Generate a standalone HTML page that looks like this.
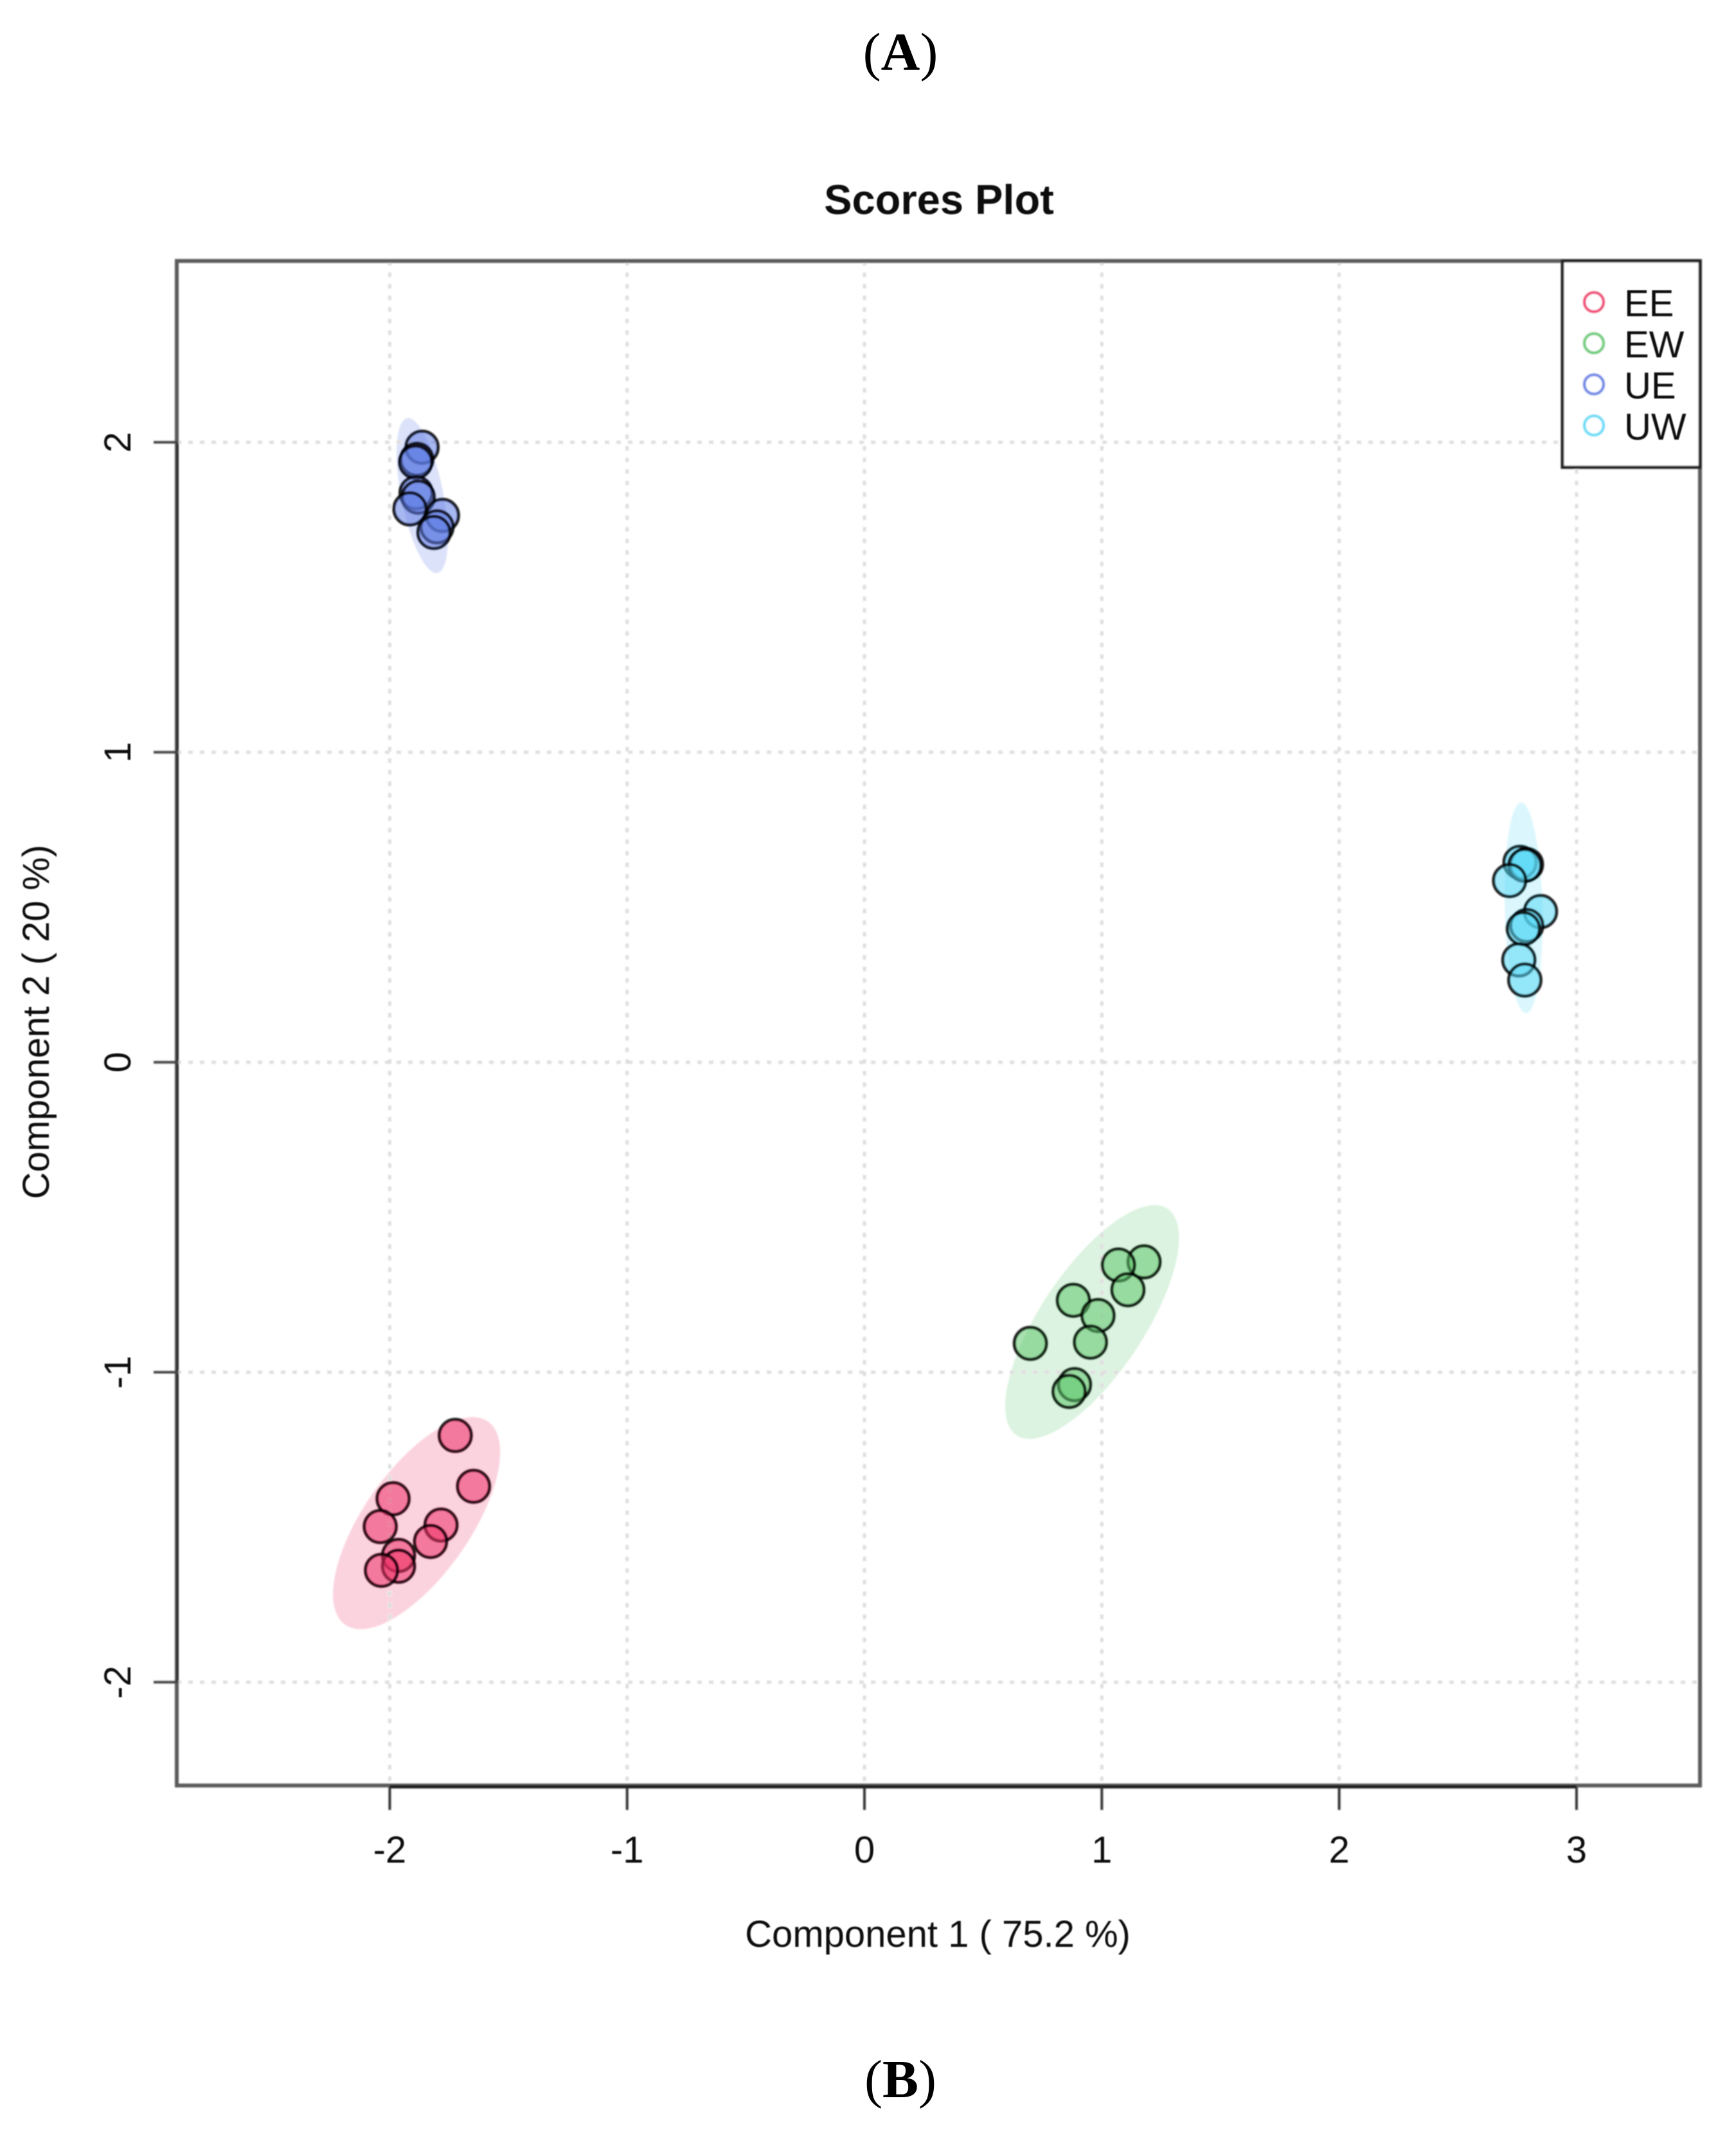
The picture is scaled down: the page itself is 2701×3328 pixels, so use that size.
<!DOCTYPE html>
<html lang="en">
<head>
<meta charset="utf-8">
<title>Scores Plot</title>
<style>
html,body{margin:0;padding:0;background:#fff;}
svg{display:block;}
text{font-family:"Liberation Sans",sans-serif;fill:#111;}
.cap{font-family:"Liberation Serif",serif;fill:#000;font-size:84px;}
</style>
</head>
<body>
<svg id="chart" xmlns="http://www.w3.org/2000/svg" width="2701" height="3328" viewBox="0 0 2701 3328">
<defs>
<filter id="soft" x="-5%" y="-5%" width="110%" height="110%"><feGaussianBlur stdDeviation="1"/></filter>
<filter id="softer" x="-5%" y="-5%" width="110%" height="110%"><feGaussianBlur stdDeviation="0.8"/></filter>
</defs>
<rect width="2701" height="3328" fill="#fff"/>
<text class="cap" x="1401" y="109" text-anchor="middle">(<tspan font-weight="bold">A</tspan>)</text>
<text class="cap" x="1401" y="3263" text-anchor="middle">(<tspan font-weight="bold">B</tspan>)</text>
<g id="plot" filter="url(#soft)"></g>
<g id="labels" filter="url(#softer)">
<text x="1461" y="333" text-anchor="middle" font-size="65" font-weight="bold">Scores Plot</text>
<text x="1459" y="3029" text-anchor="middle" font-size="58">Component 1 ( 75.2 %)</text>
<text x="76" y="1590" text-anchor="middle" font-size="58" transform="rotate(-90 76 1590)">Component 2 ( 20 %)</text>
</g>
</svg>
<script>
var xTicks = [-2, -1, 0, 1, 2, 3];
var yTicks = [-2, -1, 0, 1, 2];
var groupNames = ['EE', 'EW', 'UE', 'UW'];
var groupColors = ['#ee3268', '#5fc86e', '#5f7ce4', '#5ad9f6'];

var eeX = [-1.724, -1.647, -1.986, -2.040, -1.784, -1.828, -1.963, -1.963, -2.035];
var eeY = [-1.204, -1.368, -1.408, -1.498, -1.493, -1.546, -1.591, -1.626, -1.639];
var ewX = [1.178, 1.070, 1.110, 0.880, 0.984, 0.952, 0.699, 0.885, 0.862];
var ewY = [-0.644, -0.654, -0.734, -0.768, -0.817, -0.903, -0.907, -1.040, -1.062];
var ueX = [-1.864, -1.886, -1.891, -1.889, -1.880, -1.915, -1.778, -1.801, -1.814];
var ueY = [1.984, 1.945, 1.936, 1.837, 1.823, 1.785, 1.764, 1.727, 1.709];
var uwX = [2.762, 2.789, 2.782, 2.718, 2.848, 2.790, 2.776, 2.757, 2.782];
var uwY = [0.645, 0.638, 0.635, 0.586, 0.486, 0.441, 0.431, 0.330, 0.265];

/* confidence ellipses in data units: centre, half-extent, correlation */
var ellipseCx = [-1.887, 0.959, -1.863, 2.777];
var ellipseCy = [-1.487, -0.838, 1.828, 0.498];
var ellipseSx = [0.352, 0.366, 0.108, 0.080];
var ellipseSy = [0.342, 0.377, 0.250, 0.340];
var ellipseR = [0.67, 0.72, -0.55, -0.13];

var seriesX = [eeX, ewX, ueX, uwX];
var seriesY = [eeY, ewY, ueY, uwY];

var frame = {left: 275, right: 2645, top: 406, bottom: 2778};
function xScale(v) { return 1345 + 369.3 * v; }
function yScale(v) { return 1652.7 - 482.3 * v; }

var NS = 'http://www.w3.org/2000/svg';
var plot = document.getElementById('plot');
var labels = document.getElementById('labels');
function make(tag, parent, attrs) {
  var el = document.createElementNS(NS, tag);
  for (var k in attrs) el.setAttribute(k, attrs[k]);
  parent.appendChild(el);
  return el;
}

/* ellipses */
groupNames.forEach(function (name, g) {
  var pts = [];
  var phi = Math.acos(ellipseR[g]);
  for (var i = 0; i < 120; i++) {
    var t = i / 120 * 2 * Math.PI;
    var dx = ellipseCx[g] + ellipseSx[g] * Math.cos(t);
    var dy = ellipseCy[g] + ellipseSy[g] * Math.cos(t - phi);
    pts.push(xScale(dx).toFixed(1) + ',' + yScale(dy).toFixed(1));
  }
  var el = make('polygon', plot, {points: pts.join(' '), fill: groupColors[g], 'fill-opacity': 0.22});
  
  
});

/* grid */
xTicks.forEach(function (v) {
  var el = make('line', plot, {x1: xScale(v), x2: xScale(v), y1: frame.top, y2: frame.bottom, stroke: '#dedede', 'stroke-width': 5, 'stroke-dasharray': '7 11'});
  
  
});
yTicks.forEach(function (v) {
  var el = make('line', plot, {x1: frame.left, x2: frame.right, y1: yScale(v), y2: yScale(v), stroke: '#dedede', 'stroke-width': 5, 'stroke-dasharray': '7 11'});
  
  
});

/* frame */
var box = make('rect', plot, {x: frame.left, y: frame.top, width: frame.right - frame.left, height: frame.bottom - frame.top, fill: 'none', stroke: '#5a5a5a', 'stroke-width': 6});



/* axes */
var xAxisLine = make('line', plot, {x1: xScale(xTicks[0]), x2: xScale(xTicks[xTicks.length - 1]), y1: frame.bottom + 2, y2: frame.bottom + 2, stroke: '#1e1e1e', 'stroke-width': 5});


var yAxisLine = make('line', plot, {x1: frame.left + 1, x2: frame.left + 1, y1: yScale(yTicks[0]), y2: yScale(yTicks[yTicks.length - 1]), stroke: '#2a2a2a', 'stroke-width': 4});



xTicks.forEach(function (v) {
  var tick = make('line', plot, {x1: xScale(v), x2: xScale(v), y1: frame.bottom + 3, y2: frame.bottom + 38, stroke: '#333', 'stroke-width': 4});
  
  
  var lab = make('text', labels, {x: xScale(v), y: 2898, 'text-anchor': 'middle', 'font-size': 58});
  lab.textContent = String(v);
  
  
});
yTicks.forEach(function (v) {
  var tick = make('line', plot, {x1: frame.left - 36, x2: frame.left + 3, y1: yScale(v), y2: yScale(v), stroke: '#444', 'stroke-width': 4});
  
  
  var lx = 203, ly = yScale(v);
  var lab = make('text', labels, {x: lx, y: ly, 'text-anchor': 'middle', 'font-size': 58, transform: 'rotate(-90 ' + lx + ' ' + ly + ')'});
  lab.textContent = String(v);
  
  
});

/* points */
groupNames.forEach(function (name, g) {
  seriesX[g].forEach(function (xv, i) {
    var el = make('circle', plot, {cx: xScale(xv), cy: yScale(seriesY[g][i]), r: 25, fill: groupColors[g], 'fill-opacity': 0.55, stroke: '#000', 'stroke-opacity': 0.85, 'stroke-width': 5});
    
    
  });
});

/* legend */
var lg = make('rect', plot, {x: 2431, y: 406, width: 214, height: 321, fill: '#fff', stroke: '#222', 'stroke-width': 5});


var legendRow = 64;
groupNames.forEach(function (name, g) {
  var mark = make('circle', plot, {cx: 2480, cy: 470 + g * legendRow, r: 15, fill: 'none', stroke: groupColors[g], 'stroke-opacity': 0.9, 'stroke-width': 4.5});
  
  
  var txt = make('text', labels, {x: 2527, y: 492 + g * legendRow, 'font-size': 58});
  txt.textContent = name;
  
  
});
</script>
</body>
</html>
